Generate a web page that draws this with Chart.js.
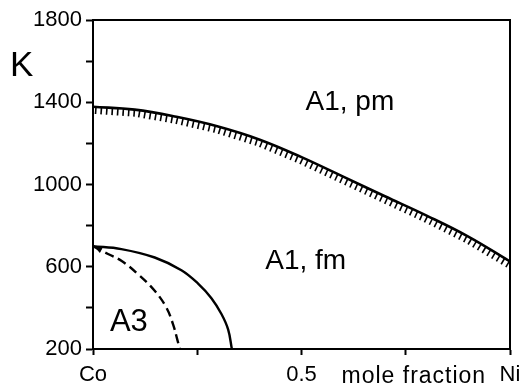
<!DOCTYPE html>
<html>
<head>
  <title>Co-Ni phase diagram</title>
  <script src="https://cdn.jsdelivr.net/npm/chart.js"></script>
  <style>
    html, body { margin: 0; padding: 0; background: #fff; }
    #wrap { width: 524px; height: 392px; }
  </style>
</head>
<body>
  <div id="wrap"><canvas id="chart" width="524" height="392"></canvas></div>

  <script>
    // Curie line (A1 pm / A1 fm)
    const curieX = [0, 0.1, 0.2, 0.3, 0.4, 0.5, 0.6, 0.7, 0.8, 0.9, 1.0];
    const curieT = [1378, 1364, 1329, 1282, 1218, 1133, 1038, 943, 849, 747, 626];

    // solid boundary of the fm region near Co
    const solidX = [0, 0.068, 0.148, 0.212, 0.252, 0.284, 0.308, 0.324, 0.333];
    const solidT = [700, 686, 645, 583, 518, 447, 370, 295, 200];

    // dashed boundary of the A3 region
    const dashedX = [0, 0.036, 0.068, 0.108, 0.148, 0.176, 0.192, 0.202, 0.208];
    const dashedT = [700, 662, 629, 564, 483, 401, 320, 247, 200];

    // axis ticks
    const xTicks = [0, 0.25, 0.5, 0.75, 1];
    const xTickLabels = ['Co', '', '0.5', '', 'Ni'];
    const yTicks = [200, 400, 600, 800, 1000, 1200, 1400, 1600, 1800];
    const yTickLabels = ['200', '', '600', '', '1000', '', '1400', '', '1800'];

    function pairs(xs, ys) {
      return xs.map((x, i) => ({ x: x, y: ys[i] }));
    }

    // hatch marks hanging under the Curie line, arrow tip on the dashed line
    const hatchPlugin = {
      id: 'hatch',
      afterDatasetsDraw(chart) {
        const pts = chart.getDatasetMeta(0).data;
        const ctx = chart.ctx;
        const step = 5.5, len = 7;
        ctx.save();
        ctx.strokeStyle = '#000';
        ctx.lineWidth = 1.6;
        let carry = 3;
        for (let i = 0; i < pts.length - 1; i++) {
          const a = pts[i], b = pts[i + 1];
          const dx = b.x - a.x, dy = b.y - a.y;
          const seg = Math.hypot(dx, dy);
          const ux = dx / seg, uy = dy / seg;
          let d = carry;
          while (d < seg) {
            const px = a.x + ux * d, py = a.y + uy * d;
            ctx.beginPath();
            ctx.moveTo(px, py);
            ctx.lineTo(px - uy * len, py + ux * len);
            ctx.stroke();
            d += step;
          }
          carry = d - seg;
        }

        const dp = chart.getDatasetMeta(2).data;
        const tip = dp[0], nxt = dp[1];
        const ang = Math.atan2(nxt.y - tip.y, nxt.x - tip.x);
        const al = 9, aw = 0.38;
        ctx.fillStyle = '#000';
        ctx.beginPath();
        ctx.moveTo(tip.x + 1, tip.y);
        ctx.lineTo(tip.x + 1 + al * Math.cos(ang - aw), tip.y + al * Math.sin(ang - aw));
        ctx.lineTo(tip.x + 1 + al * Math.cos(ang + aw), tip.y + al * Math.sin(ang + aw));
        ctx.closePath();
        ctx.fill();
        ctx.restore();
      }
    };

    // frame, region names and axis words
    const textPlugin = {
      id: 'texts',
      afterDraw(chart) {
        const ctx = chart.ctx;
        const xs = chart.scales.x, ys = chart.scales.y;
        const area = chart.chartArea;
        ctx.save();
        ctx.strokeStyle = '#000';
        ctx.lineWidth = 2;
        ctx.beginPath();
        ctx.moveTo(area.left, area.top);
        ctx.lineTo(area.right, area.top);
        ctx.lineTo(area.right, area.bottom);
        ctx.stroke();

        ctx.fillStyle = '#000';
        ctx.textBaseline = 'alphabetic';
        ctx.textAlign = 'center';
        ctx.font = '28px "Liberation Sans", Arial, sans-serif';
        ctx.fillText('A1, pm', xs.getPixelForValue(0.616), ys.getPixelForValue(1361));
        ctx.fillText('A1, fm', xs.getPixelForValue(0.51), ys.getPixelForValue(590));
        ctx.font = '31px "Liberation Sans", Arial, sans-serif';
        ctx.fillText('A3', xs.getPixelForValue(0.086), ys.getPixelForValue(288));

        ctx.textAlign = 'left';
        ctx.font = '35px "Liberation Sans", Arial, sans-serif';
        ctx.fillText('K', 10, 76);

        ctx.font = '23px "Liberation Sans", Arial, sans-serif';
        ctx.letterSpacing = '1px';
        ctx.fillText('mole fraction', xs.getPixelForValue(0.5) + 40, 383);
        ctx.restore();
      }
    };

    const tickFont = { family: '"Liberation Sans", Arial, sans-serif', size: 22 };

    new Chart(document.getElementById('chart').getContext('2d'), {
      type: 'scatter',
      data: {
        datasets: [
          {
            data: pairs(curieX, curieT),
            showLine: true,
            borderColor: '#000',
            borderWidth: 2.6,
            pointRadius: 0,
            tension: 0.4
          },
          {
            data: pairs(solidX, solidT),
            showLine: true,
            borderColor: '#000',
            borderWidth: 2.4,
            pointRadius: 0,
            tension: 0.4
          },
          {
            data: pairs(dashedX, dashedT),
            showLine: true,
            borderColor: '#000',
            borderWidth: 2.4,
            borderDash: [9, 5],
            pointRadius: 0,
            tension: 0.4
          }
        ]
      },
      options: {
        responsive: false,
        animation: false,
        events: [],
        layout: { padding: { left: 0, right: 14, top: 20, bottom: 0 } },
        plugins: {
          legend: { display: false },
          tooltip: { enabled: false }
        },
        scales: {
          x: {
            type: 'linear',
            min: 0,
            max: 1,
            afterFit(scale) {
              scale.height = 43;
              scale.paddingLeft = 0;
              scale.paddingRight = 0;
            },
            afterBuildTicks(scale) { scale.ticks = xTicks.map(v => ({ value: v })); },
            ticks: {
              color: '#000',
              font: tickFont,
              padding: 7,
              maxRotation: 0,
              autoSkip: false,
              callback: (v) => xTickLabels[xTicks.indexOf(v)]
            },
            grid: { display: true, drawOnChartArea: false, tickLength: 6, tickWidth: 2, color: '#000' },
            border: { display: true, color: '#000', width: 2 }
          },
          y: {
            min: 200,
            max: 1800,
            afterFit(scale) { scale.width = 93; },
            afterBuildTicks(scale) { scale.ticks = yTicks.map(v => ({ value: v })); },
            ticks: {
              color: '#000',
              font: tickFont,
              padding: 4,
              autoSkip: false,
              callback: (v) => yTickLabels[yTicks.indexOf(v)]
            },
            grid: { display: true, drawOnChartArea: false, tickLength: 7, tickWidth: 2, color: '#000' },
            border: { display: true, color: '#000', width: 2 }
          }
        }
      },
      plugins: [hatchPlugin, textPlugin]
    });
  </script>
</body>
</html>
